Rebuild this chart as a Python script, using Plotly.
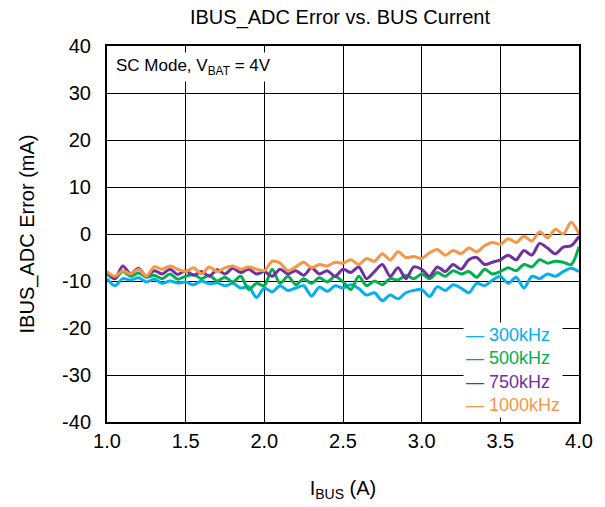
import plotly.graph_objects as go

x_bus = [round(1.0 + 0.05 * i, 2) for i in range(61)]

err_300k = [-9.5, -11.0, -9.5, -9.8, -9.3, -10.2, -9.6, -10.5, -10.0, -10.4,
            -10.2, -10.8, -10.0, -10.6, -10.4, -11.0, -10.5, -11.5, -11.2, -13.5,
            -11.5, -12.3, -11.0, -12.0, -11.5, -11.0, -13.2, -11.3, -12.2, -11.0,
            -11.5, -10.8, -11.6, -13.0, -12.5, -14.2, -13.0, -13.8, -12.5, -12.0,
            -11.8, -13.3, -11.2, -12.0, -10.8, -11.5, -12.5, -10.5, -11.0, -9.8,
            -9.0, -10.5, -9.2, -11.5, -9.0, -9.5, -8.5, -9.0, -8.0, -7.3, -8.0]

err_500k = [-8.5, -9.5, -8.0, -9.0, -8.3, -9.2, -8.8, -9.5, -8.5, -9.6,
            -9.0, -8.6, -9.5, -8.8, -10.0, -9.2, -10.2, -9.0, -11.8, -10.5,
            -11.0, -7.5, -10.5, -9.0, -10.8, -9.5, -10.5, -9.3, -10.2, -9.0,
            -10.2, -11.8, -9.0, -11.0, -10.0, -10.8, -9.5, -9.8, -8.8, -9.5,
            -8.5, -9.5, -8.2, -9.0, -7.8, -8.5, -8.0, -9.2, -7.5, -8.5,
            -8.0, -7.2, -7.8, -6.5, -7.0, -5.5, -6.2, -5.8, -6.0, -6.5, -2.7]

err_750k = [-8.0, -9.5, -6.8, -8.5, -7.3, -9.0, -7.8, -8.5, -7.5, -8.6,
            -7.8, -8.8, -8.0, -9.0, -7.6, -8.5, -7.3, -8.2, -7.5, -8.5,
            -8.0, -9.0, -7.5, -8.5, -7.8, -8.8, -7.2, -8.5, -7.8, -9.0,
            -7.5, -8.2, -7.0, -9.5, -8.0, -6.5, -9.0, -7.2, -9.5, -7.0,
            -7.5, -9.0, -7.0, -8.0, -6.5, -7.5, -5.5, -5.0, -6.5, -6.0,
            -5.5, -4.5, -5.5, -3.5, -4.5, -2.0, -3.0, -4.2, -2.8, -2.5, -0.5]

err_1000k = [-8.0, -9.0, -7.8, -8.5, -7.5, -9.0, -7.0, -7.5, -6.8, -7.5,
             -8.0, -7.2, -8.5, -7.0, -8.0, -7.2, -6.8, -7.5, -7.0, -7.5,
             -7.8, -5.8, -6.2, -7.8, -7.0, -6.0, -7.2, -6.5, -6.8, -6.0,
             -6.2, -5.5, -6.5, -5.2, -5.8, -4.2, -5.5, -3.8, -5.0, -4.8,
             -5.2, -4.0, -3.3, -4.5, -3.5, -4.2, -3.0, -3.8, -2.5, -1.8,
             -2.2, -1.0, -1.8, -0.5, -1.5, 0.5, -0.8, 1.0, 0.0, 2.5, 0.0]

series_names = ["300kHz", "500kHz", "750kHz", "1000kHz"]
series_vals = [err_300k, err_500k, err_750k, err_1000k]
series_colors = ["#00B0F0", "#00B050", "#7030A0", "#F79646"]

x_ticks = [1.0, 1.5, 2.0, 2.5, 3.0, 3.5, 4.0]
y_ticks = [-40, -30, -20, -10, 0, 10, 20, 30, 40]

FONT = "Liberation Sans, Arial, sans-serif"

fig = go.Figure()
for name, vals, col in zip(series_names, series_vals, series_colors):
    fig.add_trace(go.Scatter(x=x_bus, y=vals, mode="lines", name=name,
                             line=dict(color=col, width=3, shape="spline", smoothing=0.8),
                             showlegend=False))

legend_text = "<br>".join(
    f'<span style="color:{c}">— {n}</span>' for n, c in zip(series_names, series_colors))

fig.update_layout(
    width=605, height=507,
    margin=dict(l=107, r=26, t=46, b=85),
    paper_bgcolor="white", plot_bgcolor="white",
    font=dict(family=FONT, size=20, color="black"),
    title=dict(text="IBUS_ADC Error vs. BUS Current", x=0.562, xanchor="center",
               y=0.966, yanchor="middle", font=dict(size=20)),
    xaxis=dict(range=[1.0, 4.0], tickvals=x_ticks,
               ticktext=[f"{v:.1f}" for v in x_ticks],
               showgrid=True, gridcolor="black", gridwidth=1,
               showline=True, linecolor="black", linewidth=2, mirror=True,
               ticks="", zeroline=False, tickfont=dict(size=20),
               title=dict(text="I<sub>BUS</sub> (A)", standoff=30, font=dict(size=20))),
    yaxis=dict(range=[-40, 40], tickvals=y_ticks,
               ticktext=[str(v) for v in y_ticks],
               showgrid=True, gridcolor="black", gridwidth=1,
               showline=True, linecolor="black", linewidth=2, mirror=True,
               ticks="", zeroline=False, tickfont=dict(size=20), ticklabelstandoff=10,
               title=dict(text="IBUS_ADC Error (mA)", standoff=22, font=dict(size=20))),
    annotations=[
        dict(xref="paper", yref="paper", x=0.01, y=0.985, xanchor="left", yanchor="top",
             text="SC Mode, V<sub>BAT</sub> = 4V", showarrow=False,
             font=dict(size=17), bgcolor="white", borderpad=3),
        dict(xref="paper", yref="paper", x=0.755, y=0.01, xanchor="left", yanchor="bottom",
             text=legend_text, showarrow=False, align="left",
             font=dict(size=18), bgcolor="white", borderpad=2),
    ],
)

fig.write_html("out.html")
